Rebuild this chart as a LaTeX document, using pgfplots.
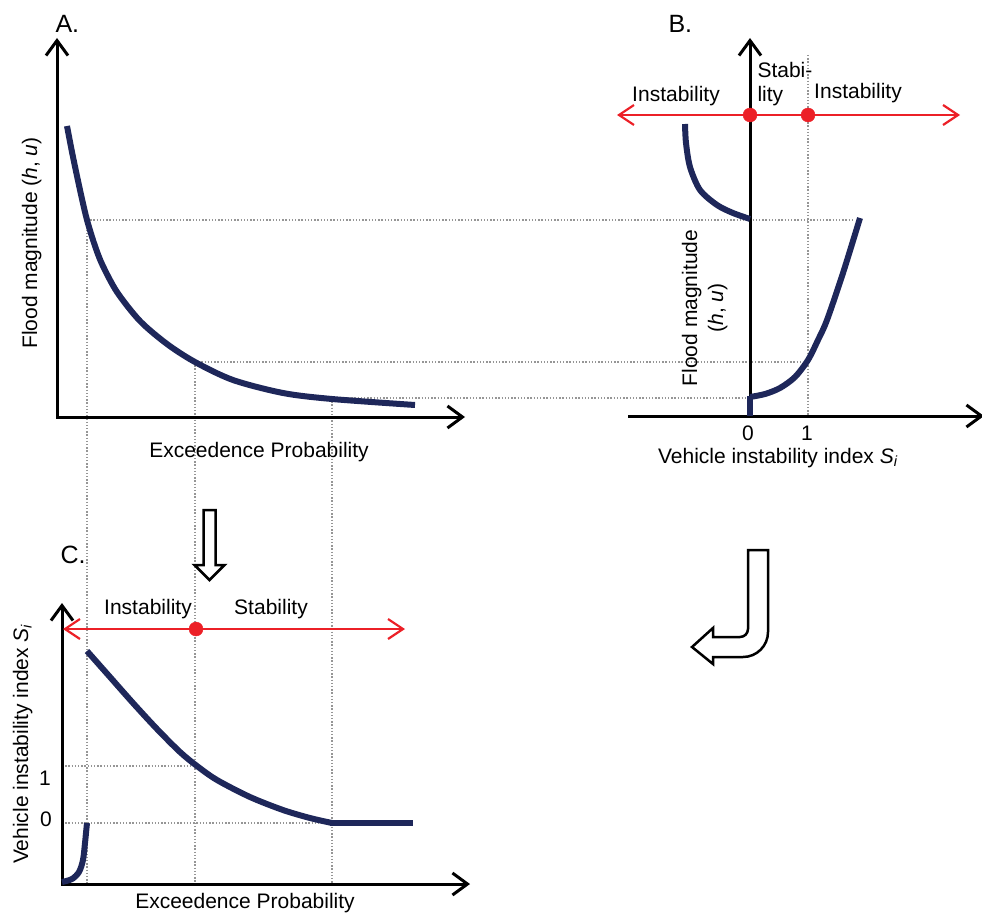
\documentclass[border=0pt]{standalone}
\usepackage{fontspec}
\setmainfont{Liberation Sans}
\usepackage{pgfplots}
\pgfplotsset{compat=1.18}
\usetikzlibrary{arrows.meta}
\definecolor{navy}{RGB}{30,39,90}
\definecolor{fred}{RGB}{236,32,39}
\definecolor{txt}{RGB}{35,31,32}
\definecolor{dotg}{RGB}{150,150,150}
\newcommand\lbl{\fontsize{21bp}{25bp}\selectfont}
\newcommand\plbl{\fontsize{25bp}{28bp}\selectfont}
\begin{document}
\begin{tikzpicture}
\begin{axis}[width=982bp,height=914bp,scale only axis,hide axis,
  xmin=0,xmax=982,ymin=0,ymax=914,y dir=reverse,clip=false,enlargelimits=false,
  every node/.append style={text=txt,inner sep=0pt}]
% ---------- dotted guide lines ----------
\addplot[dotg, line width=1.3bp, dash pattern=on 1.4bp off 1.8bp] coordinates {(87,220)(853,220)};
\addplot[dotg, line width=1.3bp, dash pattern=on 1.4bp off 1.8bp] coordinates {(195,362)(803,362)};
\addplot[dotg, line width=1.3bp, dash pattern=on 1.4bp off 1.8bp] coordinates {(332,398)(750,398)};
\addplot[dotg, line width=1.3bp, dash pattern=on 1.4bp off 1.8bp] coordinates {(808,55)(808,416)};
\addplot[dotg, line width=1.3bp, dash pattern=on 1.4bp off 1.8bp] coordinates {(87,220)(87,884)};
\addplot[dotg, line width=1.3bp, dash pattern=on 1.4bp off 1.8bp] coordinates {(195,362)(195,884)};
\addplot[dotg, line width=1.3bp, dash pattern=on 1.4bp off 1.8bp] coordinates {(332,398)(332,884)};
\addplot[dotg, line width=1.3bp, dash pattern=on 1.4bp off 1.8bp] coordinates {(62,766)(195,766)};
\addplot[dotg, line width=1.3bp, dash pattern=on 1.4bp off 1.8bp] coordinates {(62,823)(332,823)};
% ---------- panel A ----------
\addplot[black, line width=3bp, -{Straight Barb[length=15bp,width=22bp]}] coordinates {(57,418)(57,38)};
\addplot[black, line width=3bp, -{Straight Barb[length=15bp,width=22bp]}] coordinates {(56,417)(465,417)};
\addplot[navy, line width=6bp, smooth] coordinates {
(67,126) (72,152) (77,176) (82,199) (87,220) (94,243) (102,264) (117,292)
(140,321) (167,344) (195,362) (233,380) (283,393) (332,399) (415,405)};
\node[anchor=base west, font=\plbl] at (52,33) {A.};
\node[anchor=base, rotate=90, font=\lbl] at (37,243) {Flood magnitude (\textit{h}, \textit{u})};
\node[anchor=base, font=\lbl] at (259,457) {Exceedence Probability};
% ---------- panel B ----------
\addplot[black, line width=3bp, -{Straight Barb[length=15bp,width=22bp]}] coordinates {(628,416)(984,416)};
\addplot[black, line width=3bp, -{Straight Barb[length=15bp,width=22bp]}] coordinates {(750,417)(750,38)};
\addplot[navy, line width=6bp, smooth] coordinates {
(685,124) (686,143) (690,167) (700,190) (717,205) (733,213) (750,219)};
\addplot[navy, line width=6bp] coordinates {(750,416)(750,396)};
\addplot[navy, line width=6bp, smooth] coordinates {
(750,397) (765,394) (780,388) (795,377) (808,360) (818,340) (827,320) (843,273) (860,218)};
\addplot[fred, line width=2.2bp, {Straight Barb[length=15bp,width=20bp]}-{Straight Barb[length=15bp,width=20bp]}] coordinates {(617,115)(960,115)};
\addplot[only marks, mark=*, mark size=7bp, draw=fred, fill=fred] coordinates {(750,115)(808,115)};
\node[anchor=base west, font=\plbl] at (665,33) {B.};
\node[anchor=base, rotate=90, font=\lbl] at (697,308) {Flood magnitude};
\node[anchor=base, rotate=90, font=\lbl] at (723,308) {(\textit{h}, \textit{u})};
\node[anchor=base, font=\lbl] at (676,102) {Instability};
\node[anchor=base west, font=\lbl] at (754,78) {Stabi-};
\node[anchor=base west, font=\lbl] at (754,102) {lity};
\node[anchor=base, font=\lbl] at (858,99) {Instability};
\node[anchor=base, font=\lbl] at (748,440) {0};
\node[anchor=base, font=\lbl] at (807,440) {1};
\node[anchor=base, font=\lbl] at (778,463) {Vehicle instability index \textit{S}\textsubscript{\textit{i}}};
% ---------- panel C ----------
\addplot[black, line width=3bp, -{Straight Barb[length=15bp,width=22bp]}] coordinates {(62,885)(62,603)};
\addplot[black, line width=3bp, -{Straight Barb[length=15bp,width=22bp]}] coordinates {(61,884)(470,884)};
\addplot[navy, line width=6bp, smooth] coordinates {
(87,651) (110,677) (133,703) (157,729) (180,752) (197,766) (217,780) (250,797) (283,810) (310,818) (332,823)};
\addplot[navy, line width=6bp] coordinates {(330,823)(413,823)};
\addplot[navy, line width=6bp, smooth] coordinates {
(62,882) (72,879) (79,872) (83,860) (85,843) (86,833) (87,823)};
\addplot[fred, line width=2.2bp, {Straight Barb[length=15bp,width=20bp]}-{Straight Barb[length=15bp,width=20bp]}] coordinates {(63,629)(405,629)};
\addplot[only marks, mark=*, mark size=7bp, draw=fred, fill=fred] coordinates {(196,629)};
\node[anchor=base west, font=\plbl] at (57,563) {C.};
\node[anchor=base, font=\lbl] at (148,614) {Instability};
\node[anchor=base, font=\lbl] at (271,614) {Stability};
\node[anchor=base, font=\lbl] at (45,785) {1};
\node[anchor=base, font=\lbl] at (46,826) {0};
\node[anchor=base, rotate=90, font=\lbl] at (28,744) {Vehicle instability index \textit{S}\textsubscript{\textit{i}}};
\node[anchor=base, font=\lbl] at (245,908) {Exceedence Probability};
% ---------- hollow arrows ----------
\draw[line width=2.5bp, fill=white, line join=miter]
  (axis cs:203.5,510) -- (axis cs:215.5,510) -- (axis cs:215.5,565) -- (axis cs:224.5,565)
  -- (axis cs:209.5,580) -- (axis cs:194.5,565) -- (axis cs:203.5,565) -- cycle;
\draw[line width=2.5bp, fill=white, line join=miter]
  (axis cs:748,550) -- (axis cs:768,550) -- (axis cs:768,632)
  arc[start angle=0, end angle=-90, radius=25bp]
  -- (axis cs:713,657) -- (axis cs:713,664) -- (axis cs:692,647) -- (axis cs:713,628)
  -- (axis cs:713,637) -- (axis cs:740,637)
  arc[start angle=-90, end angle=0, radius=8bp]
  -- cycle;
\end{axis}
\pgfresetboundingbox
\path (current axis.south west) rectangle (current axis.north east);
\end{tikzpicture}
\end{document}
